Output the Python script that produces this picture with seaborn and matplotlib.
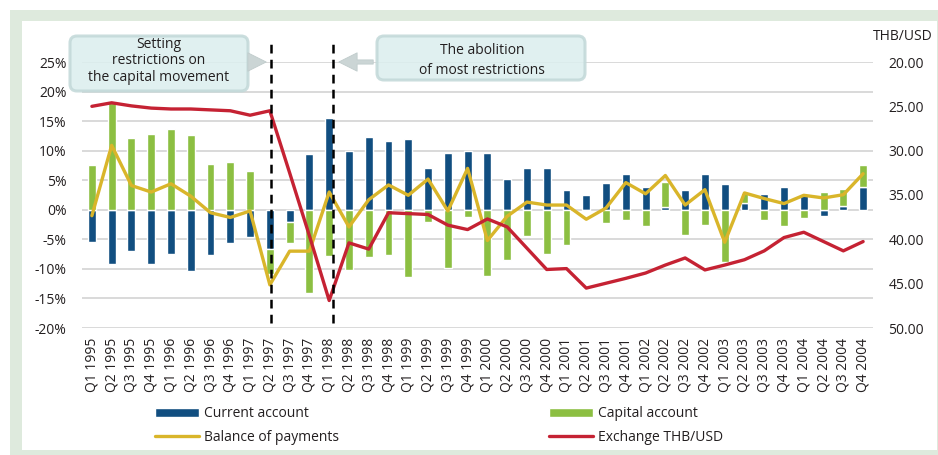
import numpy as np
import pandas as pd
import matplotlib
matplotlib.use("Agg")
import matplotlib.pyplot as plt
import seaborn as sns
from matplotlib.patches import Patch, Rectangle, FancyBboxPatch, FancyArrowPatch
from matplotlib.lines import Line2D
from matplotlib.transforms import IdentityTransform

# quarterly data, % of GDP (bars / balance) and THB per USD
quarters = [f"Q{q} {y}" for y in range(1995, 2005) for q in range(1, 5)]
current_account = [-5.5, -9.2, -7.0, -9.2, -7.4, -10.4, -7.7, -5.6, -4.6, -6.7,
                   -2.0, 9.4, 15.6, 9.9, 12.3, 11.7, 12.0, 7.1, 9.6, 9.9,
                   9.6, 5.2, 7.0, 7.0, 3.4, 2.45, 4.5, 6.1, 3.85, 0.45,
                   3.3, 6.0, 4.4, 1.2, 2.7, 3.85, 2.6, -1.06, 0.6, 3.8]
capital_account = [7.6, 18.4, 12.2, 12.9, 13.7, 12.6, 7.8, 8.0, 6.6, -4.2,
                   -3.7, -14.1, -7.9, -10.2, -8.0, -7.6, -11.4, -2.1, -9.9, -1.2,
                   -11.2, -8.5, -4.4, -7.5, -6.0, 0.0, -2.3, -1.7, -2.7, 4.2,
                   -4.3, -2.5, -8.9, 1.7, -1.7, -2.7, -1.45, 2.95, 2.9, 3.8]
balance_of_payments = [-1.0, 10.9, 4.1, 3.0, 4.4, 2.3, -0.5, -1.3, -0.2, -12.7,
                       -7.0, -7.0, 3.0, -2.9, 1.7, 4.2, 2.45, 5.2, -0.2, 7.0,
                       -5.2, -1.1, 1.3, 0.8, 0.8, -1.6, 0.3, 4.6, 2.7, 5.8,
                       0.8, 3.4, -5.5, 2.85, 1.9, 1.05, 2.45, 2.0, 2.55, 6.1]
exchange_rate = [25.0, 24.6, 24.95, 25.2, 25.3, 25.3, 25.4, 25.5, 26.0, 25.5,
                 32.5, 39.6, 46.9, 40.4, 41.1, 37.0, 37.1, 37.2, 38.4, 38.9,
                 37.7, 38.6, 41.0, 43.4, 43.3, 45.5, 44.95, 44.4, 43.8, 42.9,
                 42.1, 43.45, 42.9, 42.3, 41.3, 39.8, 39.2, 40.25, 41.3, 40.25]

pct_ticks = [-20, -15, -10, -5, 0, 5, 10, 15, 20, 25]
fx_ticks = [20, 25, 30, 35, 40, 45, 50]
event_x = [9.05, 12.2]  # Q2 1997 and Q1 1998 markers

df = pd.DataFrame({"quarter": quarters, "current": current_account,
                   "capital": capital_account, "bop": balance_of_payments,
                   "fx": exchange_rate})
df["pos"] = np.arange(len(df))
# stacked like excel: green sits on blue only when both have the same sign
df["cap_bottom"] = np.where(np.sign(df["capital"]) == np.sign(df["current"]), df["current"], 0)

blue = "#114e80"
green = "#8cbf42"
yellow = "#d9b52a"
red = "#c52233"
txt = "#231f20"

sns.set_theme(style="white")
plt.rcParams["font.family"] = ["Open Sans", "DejaVu Sans"]

W, H = 938, 455
fig = plt.figure(figsize=(W / 100, H / 100), dpi=100)
fig.patch.set_facecolor("white")

# light green frame
fig.add_artist(Rectangle((10, 0), W, H - 10, transform=IdentityTransform(),
                         facecolor="#deeadd", edgecolor="none", zorder=-10))
fig.add_artist(Rectangle((22, 5), 937 - 22, 450 - 21, transform=IdentityTransform(),
                         facecolor="white", edgecolor="none", zorder=-9))

ax = fig.add_axes([82 / W, (H - 328) / H, (873 - 82) / W, (328 - 62) / H])
ax.set_facecolor("none")

sns.barplot(data=df, x="quarter", y="current", color=blue, saturation=1,
            width=0.4, ax=ax, zorder=2)
ax.bar(df["pos"], df["capital"], bottom=df["cap_bottom"], width=0.4,
       color=green, zorder=2)
sns.lineplot(data=df, x="pos", y="bop", ax=ax, color=yellow, lw=2.4, zorder=3)

ax.set_xlim(-0.5, 39.5)
ax.set_ylim(-20, 25)
ax.set_yticks(pct_ticks)
ax.set_yticklabels([f"{t}%" for t in pct_ticks])
ax.set_xticks(df["pos"])
ax.set_xticklabels(quarters, rotation=90)
ax.grid(axis="y", color="#d9d9d9", lw=1.4)
ax.set_axisbelow(True)
ax.tick_params(length=0, labelsize=10, colors=txt)
ax.tick_params(axis="y", pad=11)
ax.tick_params(axis="x", pad=7)
ax.set_xlabel("")
ax.set_ylabel("")
for s in ax.spines.values():
    s.set_visible(False)

ax2 = ax.twinx()
sns.lineplot(data=df, x="pos", y="fx", ax=ax2, color=red, lw=2.4)
ax2.set_xlim(-0.5, 39.5)
ax2.set_ylim(50, 20)
ax2.set_yticks(fx_ticks)
ax2.set_yticklabels([f"{t:.2f}" for t in fx_ticks])
ax2.grid(False)
ax2.tick_params(length=0, labelsize=10, colors=txt, pad=11)
ax2.set_xlabel("")
ax2.set_ylabel("")
for s in ax2.spines.values():
    s.set_visible(False)

for xv in event_x:
    ax2.plot([xv, xv], [0.02, 1.075], transform=ax2.get_xaxis_transform(),
             color="black", lw=1.8, ls=(0, (3.5, 2.5)), clip_on=False, zorder=5)

fig.text(933 / W, 1 - 37 / H, "THB/USD", ha="right", va="center", fontsize=10, color=txt)

# annotation boxes with arrows
box_kw = dict(boxstyle="round,pad=0,rounding_size=7", transform=IdentityTransform(),
              facecolor="#dceeee", edgecolor="#c3d9d9", lw=2.2, alpha=0.88, zorder=6)
fig.add_artist(FancyBboxPatch((70, H - 91), 178, 55, **box_kw))
fig.add_artist(FancyBboxPatch((377, H - 80), 208, 44, **box_kw))
for y, s in [(45, "Setting"), (61, "restrictions on"), (77, "the capital movement")]:
    fig.text(159 / W, 1 - y / H, s, ha="center", va="center", fontsize=10, color=txt, zorder=7)
for y, s in [(50, "The abolition"), (70, "of most restrictions")]:
    fig.text(482 / W, 1 - y / H, s, ha="center", va="center", fontsize=10, color=txt, zorder=7)

arrow_kw = dict(transform=IdentityTransform(), arrowstyle="simple,head_length=1.1,head_width=1.1,tail_width=0.25",
                mutation_scale=12, facecolor="#cbd5d5", edgecolor="#c0cccc", lw=0.6, zorder=6)
fig.add_artist(FancyArrowPatch((250, H - 62), (269, H - 62), **arrow_kw))
fig.add_artist(FancyArrowPatch((376, H - 62), (336, H - 62), **arrow_kw))

# legend in two separate columns
leg_kw = dict(loc="upper left", frameon=False, borderpad=0, borderaxespad=0,
              handlelength=3.2, handleheight=0.6, handletextpad=0.3,
              labelspacing=0.65, fontsize=10, labelcolor=txt)
fig.legend(handles=[Patch(facecolor=blue), Line2D([], [], color=yellow, lw=2.4)],
           labels=["Current account", "Balance of payments"],
           bbox_to_anchor=(155 / W, 1 - 406 / H), **leg_kw)
fig.legend(handles=[Patch(facecolor=green), Line2D([], [], color=red, lw=2.4)],
           labels=["Capital account", "Exchange THB/USD"],
           bbox_to_anchor=(549 / W, 1 - 406 / H), **leg_kw)

fig.savefig("out.png", dpi=100)
